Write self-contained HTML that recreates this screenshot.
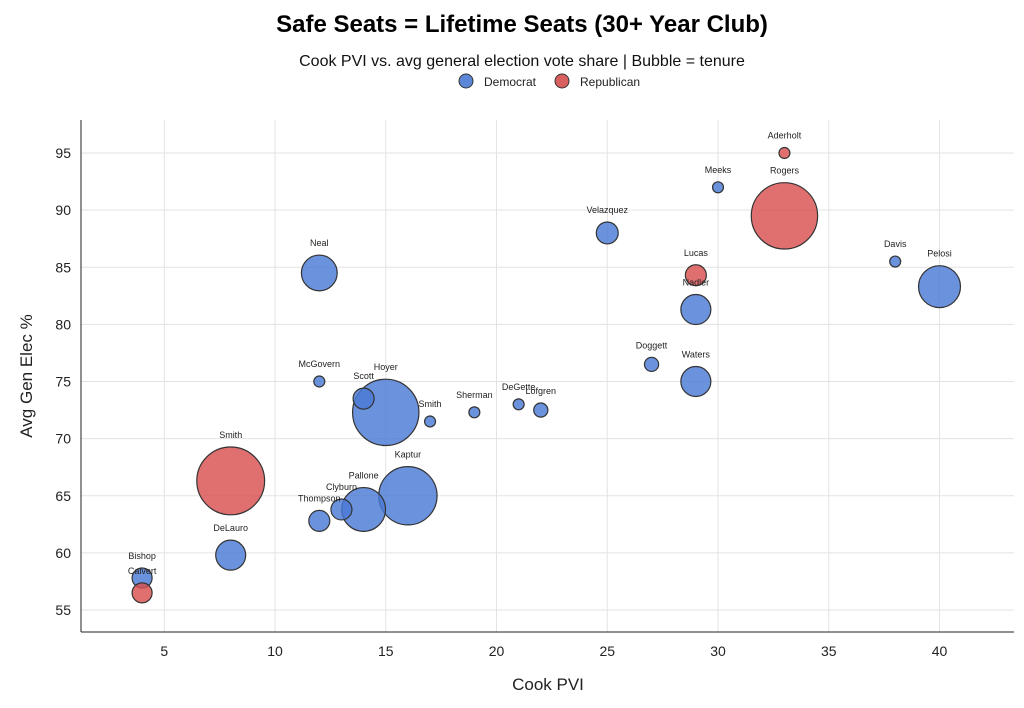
<!DOCTYPE html>
<html><head><meta charset="utf-8"><style>
body{margin:0;background:#fff;font-family:"Liberation Sans",sans-serif}
svg text{font-family:"Liberation Sans",sans-serif}
</style></head><body>
<svg id="chart" width="1024" height="703">
<text x="522" y="32" text-anchor="middle" font-size="24" font-weight="bold" fill="#000">Safe Seats = Lifetime Seats (30+ Year Club)</text>
<text x="522" y="66" text-anchor="middle" font-size="16" fill="#111">Cook PVI vs. avg general election vote share | Bubble = tenure</text>
<g>
<circle cx="466" cy="81" r="7" fill="#5b87d6" stroke="#333"/>
<text x="484" y="86" font-size="12" fill="#222">Democrat</text>
<circle cx="562" cy="81" r="7" fill="#d9605f" stroke="#333"/>
<text x="580" y="86" font-size="12" fill="#222">Republican</text>
</g>
<g id="grid"></g><g id="axes"></g><g id="marks"></g>
<text x="548" y="690" text-anchor="middle" font-size="17" fill="#222">Cook PVI</text>
<text transform="translate(32,376) rotate(-90)" text-anchor="middle" font-size="17" fill="#222">Avg Gen Elec %</text>
</svg>
<script>
const names=["Bishop","Calvert","Smith","DeLauro","Thompson","Clyburn","Pallone","Kaptur","Neal","McGovern","Scott","Hoyer","Smith","Sherman","DeGette","Lofgren","Velazquez","Doggett","Waters","Nadler","Lucas","Meeks","Aderholt","Rogers","Davis","Pelosi"];
const pvi=[4,4,8,8,12,13,14,16,12,12,14,15,17,19,21,22,25,27,29,29,29,30,33,33,38,40];
const vote=[57.8,56.5,66.3,59.8,62.8,63.8,63.8,65.0,84.5,75.0,73.5,72.3,71.5,72.3,73.0,72.5,88.0,76.5,75.0,81.3,84.3,92.0,95.0,89.5,85.5,83.3];
const tenure=[100,100,1150,225,110,110,480,850,320,30,110,1100,30,30,30,50,120,50,225,225,110,30,30,1100,30,440];
const party=["D","R","R","D","D","D","D","D","D","D","D","D","D","D","D","D","D","D","D","D","R","D","R","R","D","D"];
const xTicks=[5,10,15,20,25,30,35,40];
const yTicks=[55,60,65,70,75,80,85,90,95];
const L=81,R=1014,T=120,B=632;
const xs=v=>53.5+v*22.15;
const ys=v=>610-(v-55)*11.425;
const rs=t=>Math.sqrt(t);
const NS="http://www.w3.org/2000/svg";
function mk(tag,attrs,parent,txt){const e=document.createElementNS(NS,tag);for(const k in attrs)e.setAttribute(k,attrs[k]);if(txt!==undefined)e.textContent=txt;parent.appendChild(e);return e;}
const grid=document.getElementById('grid'),axes=document.getElementById('axes'),marks=document.getElementById('marks');
xTicks.forEach(t=>{const x=xs(t);
const g=mk('line',{x1:x,x2:x,y1:T,y2:B,stroke:'#e3e3e3'},grid);


const l=mk('text',{x:x,y:B+24,'text-anchor':'middle','font-size':14,fill:'#222'},axes,t);

});
yTicks.forEach(t=>{const y=ys(t);
const g=mk('line',{x1:L,x2:R,y1:y,y2:y,stroke:'#e3e3e3'},grid);


const l=mk('text',{x:L-10,y:y+5,'text-anchor':'end','font-size':14,fill:'#222'},axes,t);

});
const xa=mk('line',{x1:L,x2:R,y1:B,y2:B,stroke:'#222'},axes);


const ya=mk('line',{x1:L,x2:L,y1:T,y2:B,stroke:'#222'},axes);


const order=names.map((n,i)=>i).sort((a,b)=>tenure[b]-tenure[a]);
order.forEach(i=>{const n=names[i];const cx=xs(pvi[i]),cy=ys(vote[i]),r=rs(tenure[i]);
const c=mk('circle',{cx:cx,cy:cy,r:r,fill:party[i]==='D'?'#4a7ad4':'#d9504f','fill-opacity':0.82,stroke:'#333','stroke-width':1.2},marks);

});
names.forEach((n,i)=>{const cx=xs(pvi[i]),cy=ys(vote[i]),r=rs(tenure[i]);
const l=mk('text',{x:cx,y:cy-r-9,'text-anchor':'middle','font-size':9,fill:'#222'},marks,n);

});
</script>
</body></html>
